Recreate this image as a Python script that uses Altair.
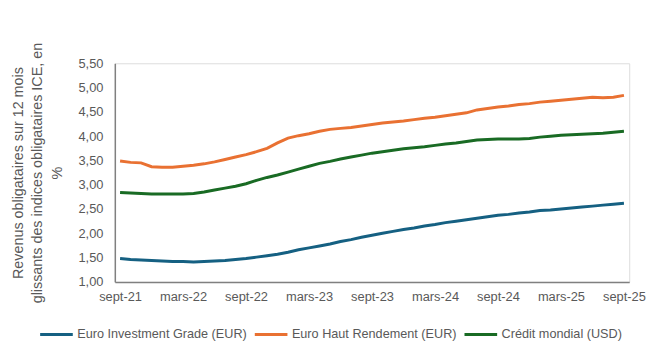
import altair as alt
import pandas as pd

# French month abbreviations (Excel style)
mois_fr = ["janv", "févr", "mars", "avr", "mai", "juin", "juil", "août", "sept", "oct", "nov", "déc"]
# Monthly categories from sept-21 to sept-25
mois = []
for k in range(49):
    m = (8 + k) % 12
    yy = 21 + (8 + k) // 12
    mois.append(f"{mois_fr[m]}-{yy:02d}")

tick_labels = ["sept-21", "mars-22", "sept-22", "mars-23", "sept-23",
               "mars-24", "sept-24", "mars-25", "sept-25"]
y_ticks = [1.0, 1.5, 2.0, 2.5, 3.0, 3.5, 4.0, 4.5, 5.0, 5.5]

series_names = ["Euro Investment Grade (EUR)", "Euro Haut Rendement (EUR)", "Crédit mondial (USD)"]
series_colors = ["#156082", "#E97132", "#196B24"]

euro_ig = [1.48, 1.46, 1.45, 1.44, 1.43, 1.42, 1.42, 1.41, 1.42, 1.43, 1.44, 1.46,
           1.48, 1.51, 1.54, 1.57, 1.61, 1.66, 1.70, 1.74, 1.78, 1.83, 1.87, 1.92,
           1.96, 2.00, 2.04, 2.08, 2.11, 2.15, 2.18, 2.22, 2.25, 2.28, 2.31, 2.34,
           2.37, 2.39, 2.42, 2.44, 2.47, 2.48, 2.50, 2.52, 2.54, 2.56, 2.58, 2.60, 2.62]

euro_hy = [3.49, 3.46, 3.45, 3.37, 3.36, 3.36, 3.38, 3.40, 3.43, 3.47, 3.52, 3.57,
           3.62, 3.68, 3.75, 3.86, 3.96, 4.01, 4.05, 4.10, 4.14, 4.16, 4.18, 4.21,
           4.24, 4.27, 4.29, 4.31, 4.34, 4.37, 4.39, 4.42, 4.45, 4.48, 4.54, 4.57,
           4.60, 4.62, 4.65, 4.67, 4.70, 4.72, 4.74, 4.76, 4.78, 4.80, 4.79, 4.80, 4.84]

credit_mondial = [2.84, 2.83, 2.82, 2.81, 2.81, 2.81, 2.81, 2.82, 2.85, 2.89, 2.93, 2.97,
                  3.02, 3.09, 3.15, 3.20, 3.26, 3.32, 3.38, 3.44, 3.48, 3.53, 3.57, 3.61,
                  3.65, 3.68, 3.71, 3.74, 3.76, 3.78, 3.81, 3.84, 3.86, 3.89, 3.92, 3.93,
                  3.94, 3.94, 3.94, 3.95, 3.98, 4.00, 4.02, 4.03, 4.04, 4.05, 4.06, 4.08, 4.10]

rows = []
for name, vals in zip(series_names, [euro_ig, euro_hy, credit_mondial]):
    for i, (mo, v) in enumerate(zip(mois, vals)):
        rows.append({"mois": mo, "ordre": i, "serie": name, "valeur": v})
df = pd.DataFrame(rows)

font = "Liberation Sans"
gray_text = "#595959"
axis_gray = "#808080"

chart = alt.Chart(df).mark_line(strokeWidth=3, interpolate="linear").encode(
    x=alt.X("mois:O", sort=mois,
            scale=alt.Scale(type="point", padding=0.5),
            axis=alt.Axis(values=tick_labels, labelAngle=0, ticks=False, grid=False,
                          title=None, labelPadding=9, labelColor=gray_text,
                          labelFontSize=13, labelFont=font,
                          domainColor=axis_gray, domainWidth=1.5)),
    y=alt.Y("valeur:Q",
            scale=alt.Scale(domain=[1, 5.5], nice=False, zero=False),
            axis=alt.Axis(values=y_ticks,
                          labelExpr="replace(format(datum.value, '.2f'), '.', ',')",
                          grid=False, ticks=False, labelPadding=12,
                          labelColor=gray_text, labelFontSize=13, labelFont=font,
                          domainColor=axis_gray, domainWidth=1.5,
                          title=["Revenus obligataires  sur 12 mois",
                                 "glissants des indices obligataires ICE, en",
                                 "%"],
                          titleFontWeight="normal", titleColor=gray_text,
                          titleFontSize=14.5, titleFont=font, titleLineHeight=19.5,
                          titlePadding=14)),
    color=alt.Color("serie:N",
                    scale=alt.Scale(domain=series_names, range=series_colors),
                    legend=alt.Legend(title=None, orient="none", direction="horizontal",
                                      legendX=-77, legendY=256,
                                      symbolType="stroke", symbolStrokeWidth=3,
                                      symbolSize=1089, labelOffset=3, columnPadding=1,
                                      labelFontSize=12.8, labelFont=font, labelLimit=0,
                                      labelColor=gray_text)),
    detail="serie:N",
    order="ordre:Q",
).properties(
    width=520, height=221,
    autosize=alt.AutoSizeParams(type="none"),
    padding={"left": 108, "top": 54, "right": 18, "bottom": 70},
).configure_view(stroke=None).configure(background="white")

chart.save("out.html", embed_options={"renderer": "svg", "actions": False})
